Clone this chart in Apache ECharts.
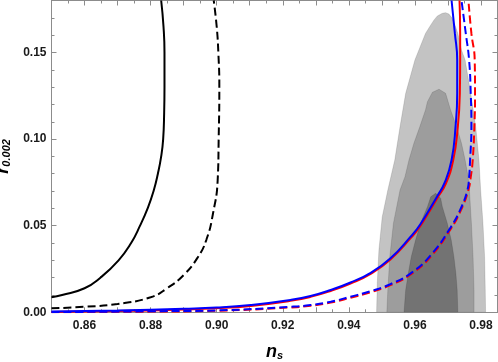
<!DOCTYPE html>
<html>
<head>
<meta charset="utf-8">
<title>r vs ns</title>
<script src="https://cdn.jsdelivr.net/npm/echarts@6/dist/echarts.min.js"></script>
<style>
  html, body { margin: 0; padding: 0; background: #fff; }
  #main { width: 498px; height: 362px; }
</style>
</head>
<body>
<div id="main"></div>
<script>
  // ---- data: [n_s, r] ----
  var blackSolid = [[0.85, 0.0087], [0.8532, 0.0100], [0.8600, 0.0139], [0.8648, 0.0200], [0.8703, 0.0300],
    [0.8741, 0.0400], [0.8768, 0.0500], [0.8791, 0.0600], [0.8809, 0.0700], [0.8822, 0.0800], [0.8832, 0.0900],
    [0.8838, 0.1000], [0.8841, 0.1150], [0.8842, 0.1300], [0.8842, 0.1500], [0.8839, 0.1650], [0.8832, 0.1800]];
  var blackDashed = [[0.85, 0.0023], [0.86, 0.0032], [0.87, 0.0048], [0.88, 0.0087], [0.885, 0.0139],
    [0.89, 0.0215], [0.8942, 0.0315], [0.8969, 0.0420], [0.8989, 0.0572], [0.9003, 0.0764], [0.9006, 0.1000],
    [0.9008, 0.1300], [0.9005, 0.1500], [0.9000, 0.1650], [0.8991, 0.1800]];
  var redSolid = [[0.85, 0.0002], [0.87, 0.0007], [0.89, 0.0016], [0.90, 0.0023], [0.9103, 0.0037], [0.9223, 0.0066],
    [0.9284, 0.0089], [0.9345, 0.0123], [0.9405, 0.0166], [0.9466, 0.0222], [0.9526, 0.0305], [0.9587, 0.0428],
    [0.9617, 0.0500], [0.9668, 0.0660], [0.9693, 0.0740], [0.9716, 0.0879], [0.9730, 0.1072], [0.9736, 0.1264],
    [0.9737, 0.1457], [0.9737, 0.1610], [0.9735, 0.1800]];
  var blueSolid = [[0.85, 0.0004], [0.87, 0.0010], [0.89, 0.0020], [0.90, 0.0027], [0.9103, 0.0042], [0.9223, 0.0071],
    [0.9284, 0.0094], [0.9345, 0.0129], [0.9405, 0.0172], [0.9466, 0.0228], [0.9526, 0.0312], [0.9587, 0.0437],
    [0.9617, 0.0510], [0.9668, 0.0672], [0.9690, 0.0748], [0.9711, 0.0879], [0.9723, 0.1072], [0.9728, 0.1264],
    [0.9728, 0.1457], [0.9721, 0.1610], [0.9711, 0.1800]];
  var redDashed = [[0.85, 0.0000], [0.88, 0.0004], [0.90, 0.0009], [0.9223, 0.0028], [0.9284, 0.0038], [0.9345, 0.0056],
    [0.9405, 0.0084], [0.9466, 0.0116], [0.9526, 0.0157], [0.9587, 0.0218], [0.9648, 0.0322], [0.9708, 0.0480],
    [0.9739, 0.0588], [0.9762, 0.0706], [0.9769, 0.0780], [0.9775, 0.0879], [0.9780, 0.1072], [0.9782, 0.1264],
    [0.9781, 0.1457], [0.9771, 0.1610], [0.9762, 0.1800]];
  var blueDashed = [[0.85, 0.0001], [0.88, 0.0006], [0.90, 0.0011], [0.9223, 0.0032], [0.9284, 0.0042], [0.9345, 0.0061],
    [0.9405, 0.0090], [0.9466, 0.0122], [0.9526, 0.0163], [0.9587, 0.0225], [0.9648, 0.0330], [0.9708, 0.0490],
    [0.9739, 0.0600], [0.9759, 0.0706], [0.9764, 0.0780], [0.9767, 0.0879], [0.9771, 0.1072], [0.9769, 0.1264],
    [0.9764, 0.1457], [0.9754, 0.1610], [0.9741, 0.1800]];

  // contours (outer 95%, inner 68%, innermost)
  var contourOuter = [[0.9484, 0], [0.9486, 0.0167], [0.9491, 0.0360], [0.9501, 0.0550], [0.9518, 0.0706],
    [0.9539, 0.0879], [0.9555, 0.1072], [0.9572, 0.1264], [0.9600, 0.1457], [0.9632, 0.1610], [0.9648, 0.1659],
    [0.9658, 0.1688], [0.9668, 0.1711], [0.9683, 0.1726], [0.9693, 0.1730], [0.9703, 0.1722], [0.9713, 0.1697],
    [0.9723, 0.1649], [0.9730, 0.1610], [0.9741, 0.1514], [0.9752, 0.1457], [0.9769, 0.1264], [0.9784, 0.1072],
    [0.9794, 0.0879], [0.9799, 0.0706], [0.9806, 0.0514], [0.9811, 0.0321], [0.9813, 0.0129], [0.9814, 0]];
  var contourMiddle = [[0.9515, 0], [0.9518, 0.0129], [0.9524, 0.0321], [0.9535, 0.0514], [0.9555, 0.0706],
    [0.9570, 0.0783], [0.9582, 0.0879], [0.9597, 0.0976], [0.9615, 0.1072], [0.9632, 0.1168], [0.9638, 0.1216],
    [0.9653, 0.1270], [0.9673, 0.1288], [0.9693, 0.1264], [0.9708, 0.1168], [0.9726, 0.1072], [0.9741, 0.0976],
    [0.9752, 0.0879], [0.9761, 0.0783], [0.9765, 0.0706], [0.9771, 0.0514], [0.9776, 0.0321], [0.9779, 0.0129],
    [0.9779, 0]];
  var contourInner = [[0.9567, 0], [0.9572, 0.0129], [0.9580, 0.0225], [0.9589, 0.0321], [0.9602, 0.0417],
    [0.9617, 0.0514], [0.9638, 0.0610], [0.9648, 0.0667], [0.9663, 0.0687], [0.9678, 0.0658], [0.9683, 0.0610],
    [0.9698, 0.0514], [0.9710, 0.0417], [0.9718, 0.0321], [0.9724, 0.0225], [0.9728, 0.0129], [0.9730, 0]];

  var nsMin = 0.85, nsMax = 0.985;
  var rMin = 0, rMax = 0.18;

  var frameColor = '#8c8c8c';
  var labelFont = { fontFamily: 'Liberation Sans', fontWeight: 'bold', fontSize: 12, color: '#1a1a1a' };

  // filled region through the axis scales
  function region(points, color) {
    return {
      type: 'custom',
      coordinateSystem: 'cartesian2d',
      silent: true,
      clip: true,
      data: points,
      renderItem: function (params, api) {
        if (params.dataIndex !== 0) return null;
        return {
          type: 'polygon',
          shape: { points: points.map(function (p) { return api.coord(p); }) },
          style: { fill: color, stroke: 'rgba(0,0,0,0.12)', lineWidth: 1 }
        };
      }
    };
  }

  function curve(points, color, dashed) {
    return {
      type: 'line',
      data: points,
      smooth: 0.5,
      showSymbol: false,
      silent: true,
      lineStyle: { color: color, width: 2, type: dashed ? [8, 4] : 'solid' }
    };
  }

  function xAx(pos, step, len, labels) {
    return {
      type: 'value', position: pos, min: nsMin, max: nsMax, interval: step,
      axisLine: { show: true, onZero: false, lineStyle: { color: frameColor } },
      axisTick: { show: true, inside: true, length: len, lineStyle: { color: frameColor } },
      splitLine: { show: false },
      axisLabel: labels ? Object.assign({
        margin: 7, showMaxLabel: false, showMinLabel: false,
        formatter: function (v) { return Math.round(v * 100) % 2 === 0 ? v.toFixed(2) : ''; }
      }, labelFont) : { show: false }
    };
  }

  function yAx(pos, step, len, labels) {
    return {
      type: 'value', position: pos, min: rMin, max: rMax, interval: step,
      axisLine: { show: true, onZero: false, lineStyle: { color: frameColor } },
      axisTick: { show: true, inside: true, length: len, lineStyle: { color: frameColor } },
      splitLine: { show: false },
      axisLabel: labels ? Object.assign({
        margin: 5, showMaxLabel: false,
        formatter: function (v) { return v.toFixed(2); }
      }, labelFont) : { show: false }
    };
  }

  var xMain = xAx('bottom', 0.01, 5, true);
  xMain.name = '{a|n}{b|s}';
  xMain.nameLocation = 'middle';
  xMain.nameGap = 30;
  xMain.nameTextStyle = {
    rich: {
      a: { fontFamily: 'Liberation Sans', fontSize: 18, fontWeight: 'bold', fontStyle: 'italic', color: '#000' },
      b: { fontFamily: 'Liberation Sans', fontSize: 11, fontWeight: 'bold', fontStyle: 'italic', color: '#000', padding: [8, 0, 0, 0] }
    }
  };

  var yMain = yAx('left', 0.05, 5, true);
  yMain.name = '{a|r}{b|0.002}';
  yMain.nameLocation = 'middle';
  yMain.nameRotate = 90;
  yMain.nameGap = 27;
  yMain.nameTextStyle = xMain.nameTextStyle;

  var option = {
    animation: false,
    grid: { left: 51.5, right: 0.5, top: 0.5, bottom: 49.7, containLabel: false, outerBoundsMode: 'none' },
    xAxis: [xMain, xAx('bottom', 0.005, 3, false), xAx('top', 0.01, 5, false), xAx('top', 0.005, 3, false)],
    yAxis: [yMain, yAx('left', 0.01, 3, false), yAx('right', 0.05, 5, false), yAx('right', 0.01, 3, false)],
    series: [
      region(contourOuter, '#c3c3c3'),
      region(contourMiddle, '#9d9d9d'),
      region(contourInner, '#737373'),
      curve(blackSolid, '#000000', false),
      curve(blackDashed, '#000000', true),
      curve(redSolid, '#ff0000', false),
      curve(redDashed, '#ff0000', true),
      curve(blueSolid, '#0000ff', false),
      curve(blueDashed, '#0000ff', true)
    ]
  };

  var chart = echarts.init(document.getElementById('main'));
  chart.setOption(option);
</script>
</body>
</html>
